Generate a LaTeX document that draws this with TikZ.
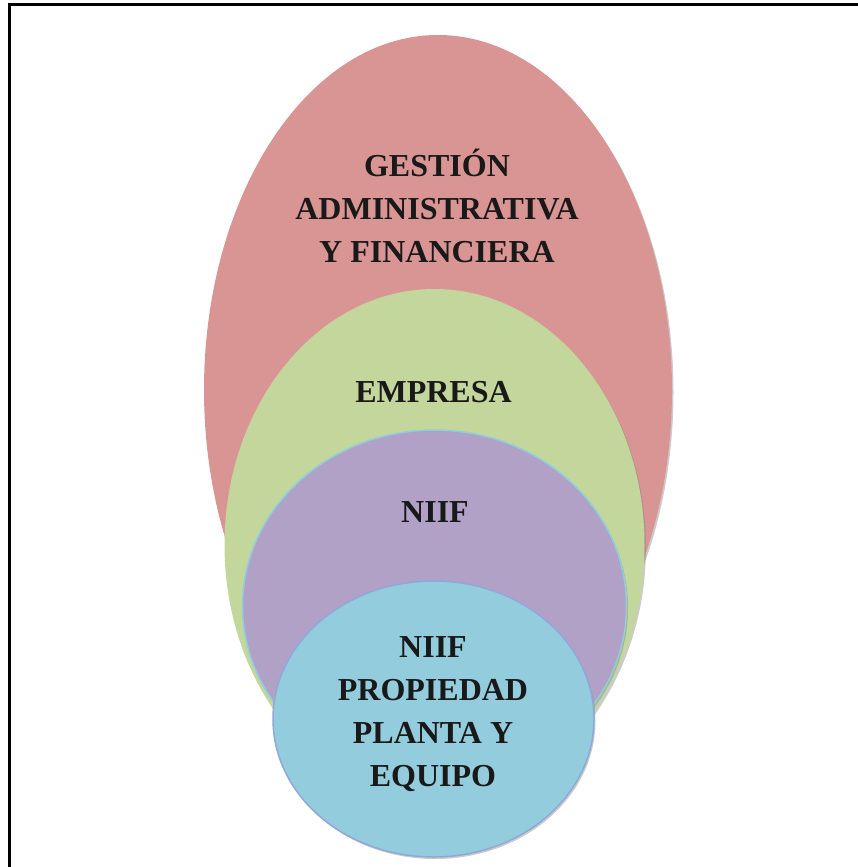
\documentclass[tikz,border=0pt]{standalone}
\usepackage{fontspec}
\setmainfont{Liberation Serif}
\usetikzlibrary{shadows}

% colores de las capas
\definecolor{capaRoja}{HTML}{D99594}
\definecolor{capaVerde}{HTML}{C3D69B}
\definecolor{capaLila}{HTML}{B2A1C7}
\definecolor{capaAzul}{HTML}{93CDDD}
\definecolor{bordeLila}{HTML}{8ECFDE}
\definecolor{bordeAzul}{HTML}{90A8D8}

\tikzset{
  capa/.style={drop shadow={shadow xshift=1.5pt, shadow yshift=-2pt, opacity=.45, fill=black!45}},
  rotulo/.style={font=\fontsize{32}{43}\selectfont\bfseries, align=center, text=black!90, inner sep=0pt, anchor=base},
}

\begin{document}
\begin{tikzpicture}[x=1pt, y=-1pt]

    % Fix the page to the size of the reference
    \useasboundingbox (0,0) rectangle (857,867);

    % Frame (only its left and top sides fall inside the page)
    \draw[line width=3pt] (9.5,4.7) rectangle (880,890);

    % 1. The nested ellipses, from the outside in
    \fill[capaRoja, capa] (438,390) ellipse [x radius=234pt, y radius=355pt];
    \fill[capaVerde, capa] (434.5,545) ellipse [x radius=210pt, y radius=256pt];
    \filldraw[fill=capaLila, draw=bordeLila, line width=1.5pt, capa] (434.5,606) ellipse [x radius=192pt, y radius=176pt];
    \filldraw[fill=capaAzul, draw=bordeAzul, line width=1.5pt, capa] (433.5,719) ellipse [x radius=160.5pt, y radius=138pt];

    % 2. Labels, each placed at the baseline of its last line
    \node[rotulo] (gestion) at (437,262) {GESTIÓN\\ADMINISTRATIVA\\Y FINANCIERA};
    \node[rotulo] (empresa) at (433.5,402) {EMPRESA};
    \node[rotulo] (niif) at (435,522) {NIIF};
    \node[rotulo] (ppe) at (433,786) {NIIF\\PROPIEDAD\\PLANTA Y\\EQUIPO};

\end{tikzpicture}
\end{document}
